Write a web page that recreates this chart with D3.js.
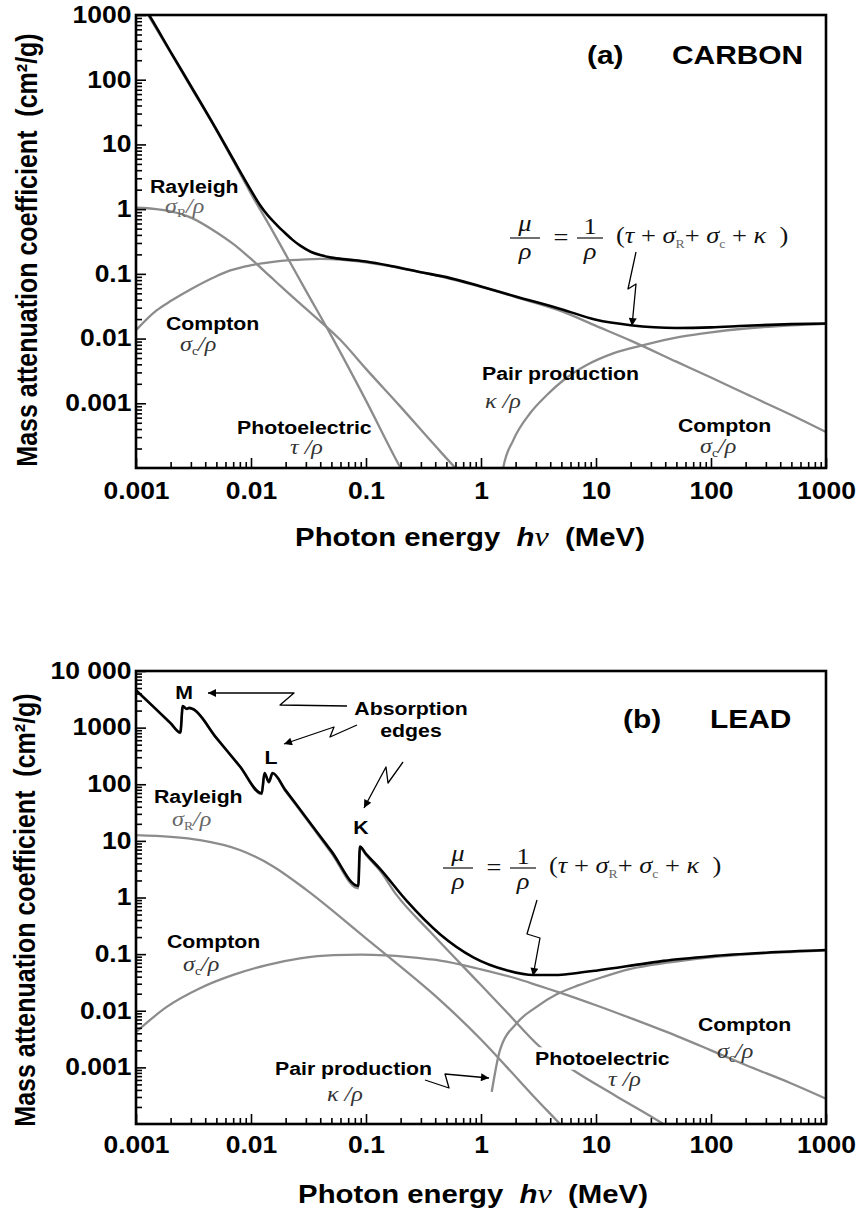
<!DOCTYPE html>
<html>
<head>
<meta charset="utf-8">
<script src="https://cdn.jsdelivr.net/npm/d3@7"></script>
<style>
  html, body { margin: 0; padding: 0; background: #fff; }
  svg { display: block; }
  .sans { font-family: "Liberation Sans", Arial, Helvetica, sans-serif; font-weight: bold; }
  .serif { font-family: "Liberation Serif", "Times New Roman", serif; }
</style>
</head>
<body>
<svg id="chart" width="861" height="1215"></svg>
<script>
// Mass attenuation coefficients, [photon energy (MeV), value (cm^2/g)]

// ---- Carbon ----
const carbonTotal = [[0.001,2100],[0.0013,1000],[0.002,270],[0.003,80],[0.005,17.0],[0.007,5.9],[0.01,1.95],[0.012,1.15],[0.014,0.8],[0.016,0.62],[0.018,0.5],[0.02,0.42],[0.023,0.335],[0.027,0.27],[0.033,0.22],[0.04,0.195],[0.05,0.178],[0.07,0.166],[0.1,0.155],[0.17,0.131],[0.3,0.106],[0.5,0.089],[1,0.0637],[2,0.0448],[5,0.0285],[10,0.0195],[20,0.0161],[50,0.0146],[100,0.0149],[200,0.0158],[500,0.0167],[1000,0.0171]];
const carbonPhoto = [[0.001,2050],[0.002,262],[0.003,77],[0.005,16.6],[0.007,5.6],[0.01,1.74],[0.015,0.5],[0.02,0.2],[0.03,0.055],[0.05,0.011],[0.1,0.0011],[0.2,0.0001],[0.25,0.00005]];
const carbonRayleigh = [[0.001,1.05],[0.0015,1.0],[0.002,0.92],[0.003,0.74],[0.005,0.44],[0.007,0.29],[0.01,0.17],[0.015,0.088],[0.02,0.055],[0.03,0.029],[0.04,0.0185],[0.06,0.0095],[0.1,0.0034],[0.2,0.00088],[0.4,0.00022],[0.6,0.0001],[0.8,0.00006]];
const carbonCompton = [[0.001,0.0135],[0.0015,0.027],[0.002,0.038],[0.003,0.058],[0.005,0.092],[0.0066,0.113],[0.01,0.136],[0.015,0.152],[0.022,0.163],[0.03,0.168],[0.04,0.170],[0.06,0.166],[0.1,0.150],[0.2,0.122],[0.5,0.087],[1,0.0628],[2,0.0438],[5,0.0265],[10,0.0157],[20,0.0093],[50,0.0044],[100,0.0025],[200,0.0014],[500,0.00066],[1000,0.00036]];
const carbonPair = [[1.45,0.00004],[1.56,0.0001],[1.91,0.00027],[2.67,0.0007],[3.72,0.00133],[5.2,0.00227],[8.3,0.0039],[14.1,0.0059],[25.8,0.0079],[53.7,0.0106],[100,0.0125],[200,0.0143],[500,0.016],[1000,0.0169]];

// ---- Lead ----
const leadTotal = [[0.001,4600],[0.0015,2100],[0.002,1200],[0.00243,820],[0.00255,2400],[0.00275,2150],[0.0029,2230],[0.0031,2150],[0.005,660],[0.008,208],[0.0124,69],[0.0131,158],[0.0143,110],[0.0154,158],[0.02,78],[0.03,26.2],[0.05,6.6],[0.0857,1.6],[0.0885,7.9],[0.1,5.9],[0.1325,3.2],[0.226,0.87],[0.44,0.225],[0.857,0.088],[1.67,0.052],[2.85,0.0428],[4.5,0.0428],[6.35,0.0456],[10,0.051],[24,0.066],[38.5,0.076],[100,0.092],[300,0.106],[1000,0.118]];
const leadPhoto = [[0.001,4550],[0.0015,2070],[0.002,1180],[0.00243,800],[0.00255,2370],[0.00275,2120],[0.0029,2200],[0.0031,2120],[0.005,650],[0.008,204],[0.0124,67],[0.0131,154],[0.0143,107],[0.0154,154],[0.02,75],[0.03,25],[0.05,6.1],[0.0857,1.45],[0.0885,7.6],[0.1,5.6],[0.1325,2.95],[0.185,1.1],[0.36,0.25],[1,0.0284],[1.67,0.0095],[3.26,0.0023],[6.35,0.00089],[15,0.00031],[38.5,0.0001],[50,0.00007]];
const leadRayleigh = [[0.001,12.6],[0.002,11.76],[0.0036,10.3],[0.008,6.9],[0.0156,3.54],[0.0305,1.35],[0.1,0.19],[0.2,0.06],[0.44,0.0154],[1,0.0031],[1.67,0.00102],[3,0.00028],[4.86,0.0001],[6,0.000063]];
const leadCompton = [[0.001,0.0042],[0.00185,0.0117],[0.0036,0.025],[0.007,0.043],[0.0137,0.064],[0.0267,0.084],[0.052,0.096],[0.09,0.098],[0.15,0.095],[0.36,0.081],[0.44,0.077],[1,0.054],[2,0.0375],[3.26,0.0272],[5,0.0205],[10,0.0125],[20,0.0074],[50,0.0036],[100,0.002],[200,0.0011],[500,0.00052],[1000,0.00028]];
const leadPair = [[1.24,0.00037],[1.46,0.002],[2.04,0.006],[3,0.0115],[4.55,0.0195],[7,0.028],[10,0.036],[20,0.055],[40,0.07],[100,0.088],[300,0.104],[1000,0.116]];

// ---- Axis ticks ----
const xTickValues = [0.001, 0.01, 0.1, 1, 10, 100, 1000];
const xTickLabels = ["0.001", "0.01", "0.1", "1", "10", "100", "1000"];
const yTickValuesA = [0.001, 0.01, 0.1, 1, 10, 100, 1000];
const yTickLabelsA = ["0.001", "0.01", "0.1", "1", "10", "100", "1000"];
const yTickValuesB = [0.001, 0.01, 0.1, 1, 10, 100, 1000, 10000];
const yTickLabelsB = ["0.001", "0.01", "0.1", "1", "10", "100", "1000", "10 000"];

// Horizontal stretch applied to all lettering
const SX = 1.15;
const GRAY = "#8c8c8c";

const svg = d3.select("#chart");
const defs = svg.append("defs");
defs.append("marker")
  .attr("id", "arrow").attr("viewBox", "0 0 10 10")
  .attr("refX", 10).attr("refY", 5)
  .attr("markerWidth", 11).attr("markerHeight", 8)
  .attr("markerUnits", "userSpaceOnUse").attr("orient", "auto")
  .append("path").attr("d", "M0,0L10,5L0,10Z").attr("fill", "#000");

function minorTicks(domain) {
  const out = [];
  const e0 = Math.round(Math.log10(domain[0])), e1 = Math.round(Math.log10(domain[1]));
  for (let e = e0; e < e1; e++) {
    const d = Math.pow(10, e);
    for (let k = 2; k <= 9; k++) out.push(+(d * k).toPrecision(3));
  }
  return out;
}

function styleTickText(sel) {
  sel.attr("class", "sans")
    .style("font-size", "23px")
    .attr("fill", "#000")
    .attr("transform", `scale(${SX},1)`);
}

function drawPanel(cfg) {
  const x = d3.scaleLog().domain([1e-3, 1e3]).range([cfg.left, cfg.right]);
  const y = d3.scaleLog().domain(cfg.yDomain).range([cfg.bottom, cfg.top]);
  const g = svg.append("g");
  const clipId = "clip-" + cfg.id;
  defs.append("clipPath").attr("id", clipId).append("rect")
    .attr("x", cfg.left).attr("y", cfg.top)
    .attr("width", cfg.right - cfg.left).attr("height", cfg.bottom - cfg.top);

  const line = d3.line().x(d => x(d[0])).y(d => y(d[1])).curve(d3.curveMonotoneX);
  const lines = g.append("g").attr("clip-path", `url(#${clipId})`)
    .attr("fill", "none").attr("stroke-linejoin", "round").attr("stroke-linecap", "butt");
  cfg.gray.forEach(s => lines.append("path").attr("d", line(s))
    .attr("stroke", GRAY).attr("stroke-width", 2.3));
  lines.append("path").attr("d", line(cfg.total))
    .attr("stroke", "#000").attr("stroke-width", 2.6);

  // x axis: minor and major ticks pointing inward
  const gxMinor = g.append("g").attr("transform", `translate(0,${cfg.bottom})`)
    .call(d3.axisBottom(x).tickValues(minorTicks([1e-3, 1e3])).tickSize(-6).tickFormat(""));
  const gx = g.append("g").attr("transform", `translate(0,${cfg.bottom})`)
    .call(d3.axisBottom(x).tickValues(xTickValues).tickSize(-10).tickPadding(cfg.xPad)
      .tickFormat(d => xTickLabels[xTickValues.indexOf(d)]));
  // y axis
  const gyMinor = g.append("g").attr("transform", `translate(${cfg.left},0)`)
    .call(d3.axisLeft(y).tickValues(minorTicks(cfg.yDomain)).tickSize(-6).tickFormat(""));
  const gy = g.append("g").attr("transform", `translate(${cfg.left},0)`)
    .call(d3.axisLeft(y).tickValues(cfg.yTicks).tickSize(-10).tickPadding(4)
      .tickFormat(d => cfg.yLabels[cfg.yTicks.indexOf(d)]));

  [gxMinor, gx, gyMinor, gy].forEach(a => {
    a.select(".domain").remove();
    a.attr("font-size", null).attr("font-family", null);
    a.selectAll("line").attr("stroke", "#000").attr("stroke-width", 1.6);
  });
  styleTickText(gx.selectAll("text"));
  styleTickText(gy.selectAll("text"));

  // frame
  g.append("rect")
    .attr("x", cfg.left).attr("y", cfg.top)
    .attr("width", cfg.right - cfg.left).attr("height", cfg.bottom - cfg.top)
    .attr("fill", "none").attr("stroke", "#000").attr("stroke-width", 2.6);

  // axis titles
  svg.append("text").attr("class", "sans")
    .attr("transform", `translate(${cfg.yTitleX},${cfg.yTitleY}) scale(${SX},1) rotate(-90)`)
    .attr("text-anchor", "middle").attr("font-size", 25).style("white-space", "pre")
    .text("Mass attenuation coefficient  (cm²/g)");

  const xt = svg.append("text").attr("class", "sans")
    .attr("transform", `translate(${cfg.xTitleX},${cfg.xTitleY}) scale(${SX},1)`)
    .attr("text-anchor", "middle").attr("font-size", 25.5).style("white-space", "pre");
  xt.append("tspan").text("Photon energy  ");
  xt.append("tspan").attr("font-style", "italic").text("h");
  xt.append("tspan").attr("class", "serif").attr("font-weight", "normal")
    .attr("font-style", "italic").attr("font-size", 28).text("ν");
  xt.append("tspan").text("  (MeV)");

  return { x, y };
}

function boldLabel(x, y, str, size = 18.5, anchor = "start") {
  return svg.append("text").attr("class", "sans")
    .attr("transform", `translate(${x},${y}) scale(${SX},1)`)
    .attr("text-anchor", anchor).attr("font-size", size).attr("fill", "#000")
    .text(str);
}

function mathLabel(x, y, sym, sub, rest, fill = "#333") {
  const t = svg.append("text").attr("class", "serif")
    .attr("transform", `translate(${x},${y}) scale(${SX},1)`)
    .attr("font-size", 21).attr("fill", fill).style("white-space", "pre");
  t.append("tspan").attr("font-style", "italic").text(sym);
  if (sub) t.append("tspan").attr("font-size", 12).attr("dy", 4).text(sub);
  t.append("tspan").attr("font-style", "italic").attr("dy", sub ? -4 : 0).text(rest);
  return t;
}

function formula(x0, yf) {
  const f = svg.append("g").attr("class", "serif").attr("fill", "#111");
  const put = (x, y, str, opts = {}) => {
    const t = f.append("text")
      .attr("transform", `translate(${x},${y}) scale(${SX},1)`)
      .attr("text-anchor", opts.anchor || "middle")
      .attr("font-size", opts.size || 23)
      .style("white-space", "pre");
    if (opts.italic) t.attr("font-style", "italic");
    t.text(str);
    return t;
  };
  // μ / ρ
  f.append("line").attr("x1", x0).attr("x2", x0 + 30).attr("y1", yf).attr("y2", yf)
    .attr("stroke", "#111").attr("stroke-width", 1.2);
  put(x0 + 15, yf - 7, "μ", { italic: true });
  put(x0 + 15, yf + 21, "ρ", { italic: true });
  put(x0 + 51, yf + 7, "=");
  // 1 / ρ
  f.append("line").attr("x1", x0 + 67).attr("x2", x0 + 93).attr("y1", yf).attr("y2", yf)
    .attr("stroke", "#111").attr("stroke-width", 1.2);
  put(x0 + 80, yf - 4, "1");
  put(x0 + 80, yf + 21, "ρ", { italic: true });
  // (τ + σR + σc + κ )
  const t = f.append("text")
    .attr("transform", `translate(${x0 + 106},${yf + 5}) scale(${SX},1)`)
    .attr("font-size", 23).style("white-space", "pre");
  t.append("tspan").text("(");
  t.append("tspan").attr("font-style", "italic").text("τ");
  t.append("tspan").text(" + ");
  t.append("tspan").attr("font-style", "italic").text("σ");
  t.append("tspan").attr("font-size", 12).attr("dy", 5).attr("fill", "#666").text("R");
  t.append("tspan").attr("dy", -5).text("+ ");
  t.append("tspan").attr("font-style", "italic").text("σ");
  t.append("tspan").attr("font-size", 12).attr("dy", 5).attr("fill", "#666").text("c");
  t.append("tspan").attr("dy", -5).text(" + ");
  t.append("tspan").attr("font-style", "italic").text("κ");
  t.append("tspan").text("  )");
}

function arrow(d) {
  svg.append("path").attr("d", d).attr("fill", "none")
    .attr("stroke", "#000").attr("stroke-width", 1.3)
    .attr("stroke-linejoin", "round").attr("marker-end", "url(#arrow)");
}

// ===== Panel (a): carbon =====
drawPanel({
  id: "a", left: 136, right: 826, top: 15, bottom: 468,
  yDomain: [1e-4, 1e3], yTicks: yTickValuesA, yLabels: yTickLabelsA,
  xPad: 15,
  total: carbonTotal,
  gray: [carbonRayleigh, carbonCompton, carbonPair, carbonPhoto],
  yTitleX: 37, yTitleY: 250, xTitleX: 470, xTitleY: 546
});

boldLabel(587, 64, "(a)", 26);
boldLabel(672, 64, "CARBON", 26);
boldLabel(150, 193, "Rayleigh");
mathLabel(165, 213, "σ", "R", "/ρ", "#666");
boldLabel(166, 330, "Compton");
mathLabel(180, 351, "σ", "c", "/ρ");
boldLabel(237, 434, "Photoelectric");
mathLabel(290, 454, "τ", null, " /ρ");
boldLabel(482, 380, "Pair production");
mathLabel(485, 408, "κ", null, " /ρ");
boldLabel(678, 431.5, "Compton");
mathLabel(700, 453, "σ", "c", "/ρ");
formula(510, 238);
arrow("M636,252 L628,289 L636,284 L632,326");

// ===== Panel (b): lead =====
drawPanel({
  id: "b", left: 136, right: 826, top: 671, bottom: 1124,
  yDomain: [1e-4, 1e4], yTicks: yTickValuesB, yLabels: yTickLabelsB,
  xPad: 13,
  total: leadTotal,
  gray: [leadRayleigh, leadCompton, leadPair, leadPhoto],
  yTitleX: 35, yTitleY: 910, xTitleX: 473, xTitleY: 1203
});

boldLabel(623, 728, "(b)", 26);
boldLabel(710, 728, "LEAD", 26);
boldLabel(184, 699, "M", 18.5, "middle");
boldLabel(271, 764, "L", 18.5, "middle");
boldLabel(361, 834, "K", 18.5, "middle");
boldLabel(411, 715, "Absorption", 18.5, "middle");
boldLabel(411, 737, "edges", 18.5, "middle");
arrow("M347,706 L280,705 L294,693 L208,693");
arrow("M357,725 L330,737 L334,727 L284,744");
arrow("M403,762 L388,783 L386,767 L364,808");

boldLabel(154, 802.5, "Rayleigh");
mathLabel(172, 826, "σ", "R", "/ρ", "#666");
boldLabel(167, 948, "Compton");
mathLabel(183, 971, "σ", "c", "/ρ");
boldLabel(275, 1075, "Pair production");
mathLabel(327, 1101, "κ", null, " /ρ");
arrow("M425,1080 L449,1088 L445,1074 L489,1078");

// Photoelectric label sits on a white patch that interrupts its curve
const pe = boldLabel(535, 1065, "Photoelectric");
const bb = pe.node().getBBox();
svg.insert("rect", () => pe.node())
  .attr("transform", `translate(535,1065) scale(${SX},1)`)
  .attr("x", bb.x - 2).attr("y", bb.y - 1)
  .attr("width", bb.width + 4).attr("height", bb.height + 2)
  .attr("fill", "#fff");
mathLabel(608, 1086, "τ", null, " /ρ");
boldLabel(698, 1031, "Compton");
mathLabel(717, 1058, "σ", "c", "/ρ");
formula(443, 868);
arrow("M537,900 L527,934 L540,938 L533,976");
</script>
</body>
</html>
